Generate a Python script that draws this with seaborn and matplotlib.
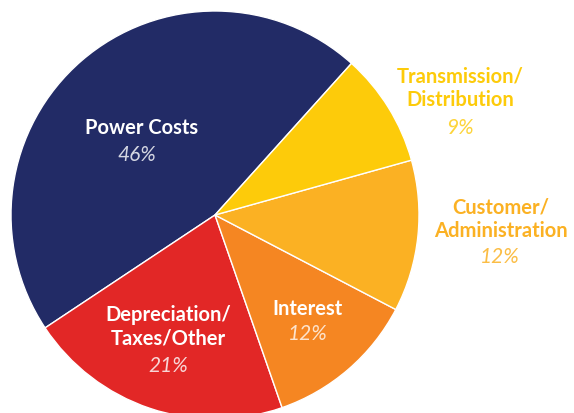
import matplotlib
matplotlib.use('Agg')
import matplotlib.pyplot as plt
import seaborn as sns

# cost shares, drawn counterclockwise starting from Power Costs
categories = ['Power Costs', 'Depreciation/\nTaxes/Other', 'Interest',
              'Customer/\nAdministration', 'Transmission/\nDistribution']
shares = [46, 21, 12, 12, 9]
pct_labels = ['46%', '21%', '12%', '12%', '9%']

slice_colors = ['#222b66', '#e22726', '#f58622', '#fbb123', '#fdcb0a']
# label text colour (white inside the pie, slice colour outside)
text_colors = ['white', 'white', 'white', '#fbb123', '#fdcb0a']
pct_colors = ['#d4d6e2', '#f8d6d6', '#fde3cc', '#fbbd45', '#fdd43a']
# label anchor (pixel coords from top-left), name and percentage line
label_pos = [(142, 128), (168, 327), (308, 309), (501, 219), (460, 88)]
pct_pos = [(137, 155), (168, 366), (308, 334), (500, 257), (460, 128)]

sns.set_theme(style='white')
plt.rcParams['font.family'] = ['Lato', 'DejaVu Sans']

W, H = 574, 413
fig = plt.figure(figsize=(W / 100, H / 100), dpi=100)
ax = fig.add_axes([0, 0, 1, 1])

ax.pie(shares, colors=slice_colors, startangle=48, counterclock=True,
       center=(215, H - 215), radius=204,
       wedgeprops=dict(edgecolor='white', linewidth=1))

ax.set_xlim(0, W)
ax.set_ylim(0, H)
ax.set_aspect('equal')
ax.axis('off')

for name, pct, tc, pc, (lx, ly), (px, py) in zip(categories, pct_labels, text_colors,
                                                  pct_colors, label_pos, pct_pos):
    ax.text(lx, H - ly, name, ha='center', va='center', color=tc,
            fontsize=14.5, fontweight='bold', linespacing=1.2)
    ax.text(px, H - py, pct, ha='center', va='center', color=pc,
            fontsize=15, fontweight='normal', style='italic')

plt.savefig('out.png', dpi=100)
